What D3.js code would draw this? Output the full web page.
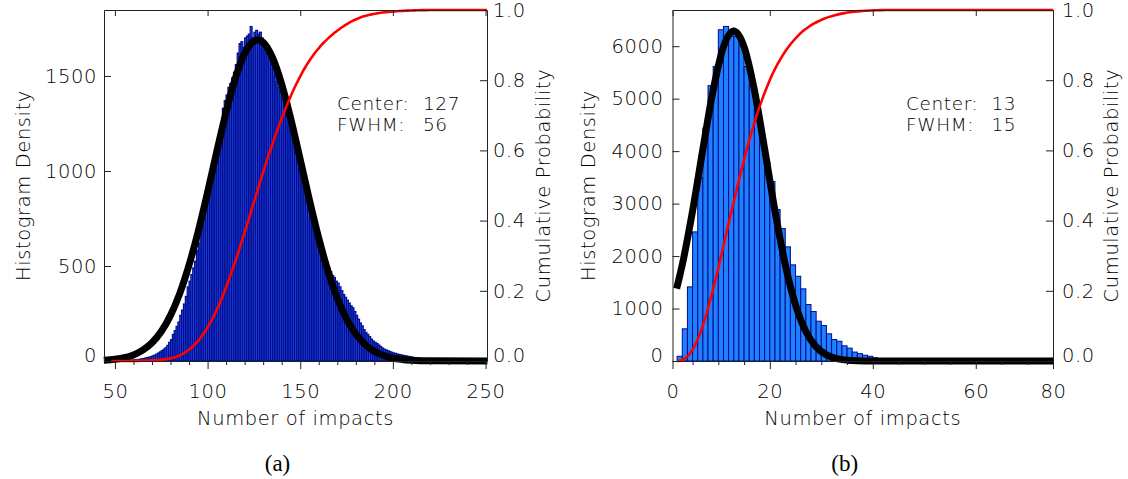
<!DOCTYPE html>
<html>
<head>
<meta charset="utf-8">
<script src="https://cdn.jsdelivr.net/npm/d3@7"></script>
<style>
  body { margin: 0; background: #fff; }
  svg text { font-family: "DejaVu Sans", sans-serif; font-weight: 200; fill: #000; letter-spacing: 0.6px; }
</style>
</head>
<body>
<svg id="chart" width="1128" height="479"></svg>
<script>
// ---- data ----
// (a) histogram: one bin per impact count, first bin = 48
const leftBinStart = 48;
const leftCounts = [
  0, 0, 1, 1, 1, 2, 2, 3, 3, 4,
  4, 5, 6, 7, 8, 9, 11, 13, 15, 18,
  20, 23, 27, 31, 36, 42, 48, 55, 62, 70,
  82, 98, 112, 140, 160, 182, 205, 240, 268, 300,
  340, 390, 420, 455, 490, 525, 580, 620, 690, 740,
  780, 830, 880, 930, 990, 1040, 1090, 1150, 1200, 1250,
  1330, 1370, 1400, 1440, 1460, 1490, 1520, 1560, 1620, 1670,
  1680, 1650, 1700, 1710, 1720, 1760, 1700, 1730, 1740, 1720,
  1730, 1700, 1660, 1640, 1630, 1590, 1560, 1540, 1500, 1470,
  1440, 1420, 1390, 1350, 1330, 1290, 1250, 1200, 1170, 1120,
  1080, 1040, 1000, 960, 920, 880, 830, 800, 760, 740,
  700, 660, 620, 590, 560, 530, 520, 490, 470, 450,
  440, 420, 410, 390, 370, 350, 335, 320, 305, 290,
  280, 260, 240, 220, 200, 185, 165, 150, 140, 128,
  115, 105, 98, 92, 84, 76, 68, 62, 58, 54,
  50, 46, 42, 40, 37, 34, 32, 30, 28, 26,
  24, 22, 20, 18, 16, 14, 14, 12, 10, 9,
  8, 6, 5, 4, 3, 2, 2
];
// (a) fitted curve
const leftFitX = [44, 50, 55, 60, 65, 70, 75, 80, 85, 90, 95, 100, 105, 110, 115, 120, 125, 127, 130, 135, 140, 145, 150, 155, 160, 165, 170, 175, 180, 185, 190, 195, 200, 205, 210, 220, 251];
const leftFitY = [4, 9, 17, 32, 57, 96, 155, 240, 356, 505, 684, 888, 1103, 1310, 1488, 1618, 1684, 1690, 1677, 1597, 1456, 1270, 1060, 846, 646, 472, 330, 221, 142, 87, 51, 29, 15, 8, 4, 1, 0];

// (b) histogram, first bin = 2
const rightBinStart = 2;
const rightCounts = [
  90, 613, 1413, 2461, 3500, 4442, 5248, 5615, 6314, 6377,
  6314, 6187, 6029, 5615, 5266, 4790, 4300, 3800, 3420, 2886,
  2524, 2175, 1832, 1615, 1375, 1076, 943, 758, 676, 518,
  410, 377, 290, 245, 170, 140, 110, 90, 60, 35,
  20, 10, 5
];
const rightFitX = [1.9, 3, 5, 7, 9, 11, 13, 15, 17, 19, 21, 23, 25, 27, 29, 31, 33, 35, 37, 40, 45, 75];
const rightFitY = [1380, 1835, 2860, 4038, 5165, 5988, 6290, 5988, 5165, 4038, 2860, 1835, 1068, 563, 269, 116, 46, 16, 5, 1, 0, 0];

// axes
const leftXDomain = [44.1, 250.8];
const leftYDomain = [0, 1847];
const leftXMajor = [50, 100, 150, 200, 250];
const leftXLabels = ["50", "100", "150", "200", "250"];
const leftXMinor = [60, 70, 80, 90, 110, 120, 130, 140, 160, 170, 180, 190, 210, 220, 230, 240];
const leftYTicks = [0, 500, 1000, 1500];

const rightXDomain = [1.1, 75];
const rightYDomain = [0, 6690];
const rightXMajor = [1.1, 20, 40, 60, 75];
const rightXLabels = ["0", "20", "40", "60", "80"];
const rightXMinor = [5, 10, 15, 25, 30, 35, 45, 50, 55, 65, 70];
const rightYTicks = [0, 1000, 2000, 3000, 4000, 5000, 6000];

const probTicks = [0, 0.2, 0.4, 0.6, 0.8, 1.0];

const statLabels = ["Center:", "FWHM:"];
const leftStats = ["127", "56"];
const rightStats = ["13", "15"];

const xTitle = "Number of impacts";
const yTitle = "Histogram Density";
const y2Title = "Cumulative Probability";

// ---- drawing ----
const svg = d3.select("#chart");
const plotTop = 10, plotBottom = 361;

function styleAxis(sel) {
  sel.attr("font-size", 19.5)
     .attr("font-family", "DejaVu Sans, sans-serif")
     .style("color", "#222");
  sel.select(".domain").attr("stroke-width", 1);
}

function drawPanel(p) {
  const g = svg.append("g");
  const x = d3.scaleLinear().domain(p.xDomain).range([p.x0, p.x1]);
  const y = d3.scaleLinear().domain(p.yDomain).range([plotBottom, plotTop]);
  const yc = d3.scaleLinear().domain([0, 1]).range([plotBottom, plotTop]);

  // bars
  g.append("g")
    .selectAll("rect")
    .data(p.counts)
    .join("rect")
    .attr("x", (d, i) => x(p.binStart + i))
    .attr("width", x(p.binStart + 1) - x(p.binStart))
    .attr("y", d => y(d))
    .attr("height", d => y(0) - y(d))
    .attr("fill", p.barFill)
    .attr("stroke", "#000c8c")
    .attr("stroke-width", p.barStroke);

  // gaussian fit
  const fit = p.fitX.map((v, i) => [v, p.fitY[i]]);
  g.append("path")
    .datum(fit)
    .attr("d", d3.line().x(d => x(d[0])).y(d => y(Math.max(0, d[1]))).curve(d3.curveMonotoneX))
    .attr("fill", "none")
    .attr("stroke", "#000")
    .attr("stroke-width", 7);

  // cumulative probability from the histogram
  const cum = d3.cumsum(p.counts);
  const total = cum[cum.length - 1];
  const cdf = [[p.binStart, 0]]
    .concat(Array.from(cum, (c, i) => [p.binStart + i + 0.5, c / total]))
    .concat([[p.xDomain[1], 1]]);
  g.append("path")
    .datum(cdf)
    .attr("d", d3.line().x(d => x(d[0])).y(d => yc(d[1])).curve(d3.curveMonotoneX))
    .attr("fill", "none")
    .attr("stroke", "#ff0000")
    .attr("stroke-width", 2.6);

  // bottom axis: minor then major
  g.append("g")
    .attr("transform", `translate(0,${plotBottom})`)
    .call(d3.axisBottom(x).tickValues(p.xMinor).tickSize(4).tickSizeOuter(0).tickFormat(""))
    .call(styleAxis)
    .select(".domain").remove();
  g.append("g")
    .attr("transform", `translate(0,${plotBottom})`)
    .call(d3.axisBottom(x).tickValues(p.xMajor).tickSize(8).tickSizeOuter(0).tickPadding(15)
      .tickFormat((d, i) => p.xLabels[i]))
    .call(styleAxis);

  // top axis
  g.append("g")
    .attr("transform", `translate(0,${plotTop})`)
    .call(d3.axisTop(x).tickValues(p.xMajor).tickSize(-6).tickSizeOuter(0).tickFormat(""))
    .call(styleAxis);

  // left axis
  const ya = g.append("g")
    .attr("transform", `translate(${p.x0},0)`)
    .call(d3.axisLeft(y).tickValues(p.yTicks).tickSize(-7).tickSizeOuter(0).tickPadding(p.yPad)
      .tickFormat(d3.format("d")))
    .call(styleAxis);
  ya.selectAll(".tick text").filter(d => d === 0).attr("y", -6);

  // right axis
  const ra = g.append("g")
    .attr("transform", `translate(${p.x1},0)`)
    .call(d3.axisRight(yc).tickValues(probTicks).tickSize(-7).tickSizeOuter(0).tickPadding(p.rPad)
      .tickFormat(d3.format(".1f")))
    .call(styleAxis);
  ra.selectAll(".tick text").filter(d => d === 0).attr("y", -6);

  // titles
  g.append("text")
    .attr("x", (p.x0 + p.x1) / 2).attr("y", 425)
    .attr("text-anchor", "middle").attr("font-size", 19.5)
    .text(xTitle);
  g.append("text")
    .attr("transform", `translate(${p.yTitleX},${(plotTop + plotBottom) / 2}) rotate(-90)`)
    .attr("text-anchor", "middle").attr("font-size", 19.5)
    .text(yTitle);
  g.append("text")
    .attr("transform", `translate(${p.y2TitleX},${(plotTop + plotBottom) / 2}) rotate(-90)`)
    .attr("text-anchor", "middle").attr("font-size", 19.5)
    .text(y2Title);

  // fit stats
  statLabels.forEach((s, i) => {
    g.append("text").attr("x", p.statX).attr("y", 110 + i * 20.7)
      .attr("font-size", 18.5).text(s);
    g.append("text").attr("x", p.statValX).attr("y", 110 + i * 20.7)
      .attr("font-size", 18.5).text(p.stats[i]);
  });

  // panel caption
  g.append("text")
    .attr("x", (p.x0 + p.x1) / 2 - 18).attr("y", 471)
    .attr("text-anchor", "middle")
    .style("font-family", "'Liberation Serif', 'Times New Roman', serif")
    .style("font-weight", 400)
    .style("letter-spacing", "0px")
    .attr("font-size", 23)
    .text(p.caption);
}

drawPanel({
  x0: 104, x1: 487,
  xDomain: leftXDomain, yDomain: leftYDomain,
  binStart: leftBinStart, counts: leftCounts,
  fitX: leftFitX, fitY: leftFitY,
  barFill: "#2a58ff", barStroke: 1.2,
  xMajor: leftXMajor, xLabels: leftXLabels, xMinor: leftXMinor,
  yTicks: leftYTicks, yPad: 7, rPad: 6,
  yTitleX: 30, y2TitleX: 550,
  stats: leftStats, statX: 337, statValX: 423,
  caption: "(a)"
});

drawPanel({
  x0: 672.5, x1: 1053,
  xDomain: rightXDomain, yDomain: rightYDomain,
  binStart: rightBinStart, counts: rightCounts,
  fitX: rightFitX, fitY: rightFitY,
  barFill: "#1e80ff", barStroke: 1,
  xMajor: rightXMajor, xLabels: rightXLabels, xMinor: rightXMinor,
  yTicks: rightYTicks, yPad: 9, rPad: 9,
  yTitleX: 595, y2TitleX: 1118,
  stats: rightStats, statX: 906, statValX: 991.5,
  caption: "(b)"
});
</script>
</body>
</html>
